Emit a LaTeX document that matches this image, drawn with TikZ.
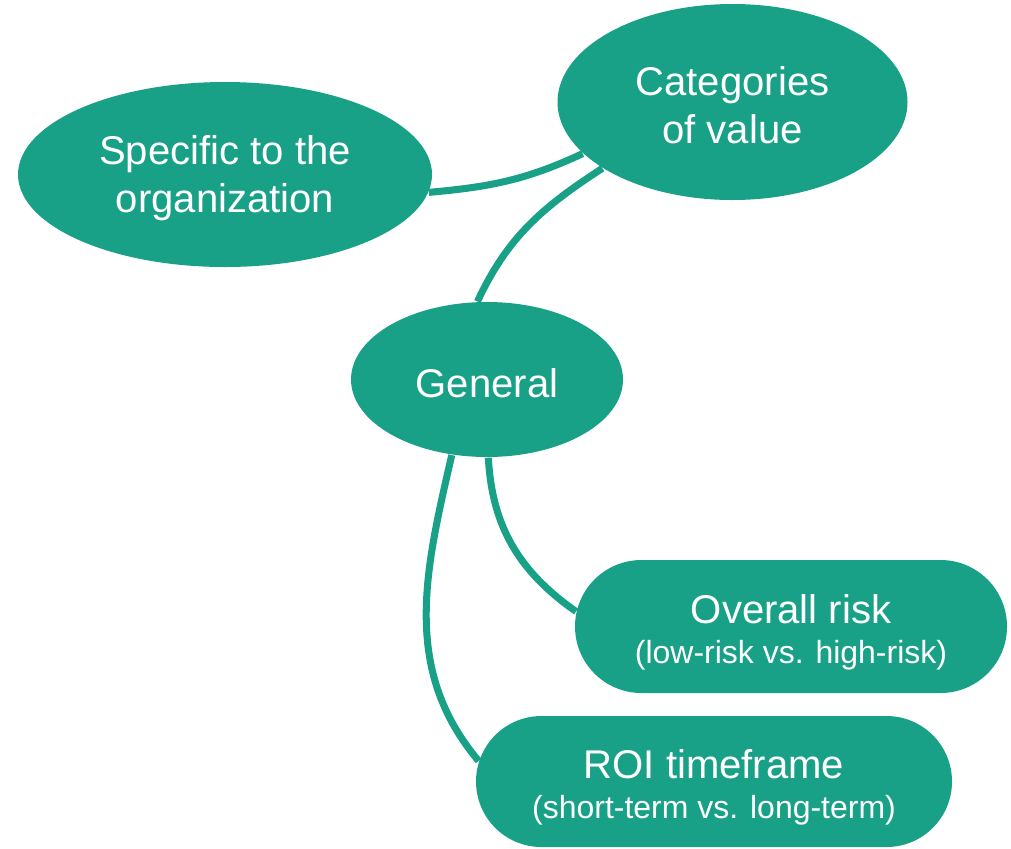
\documentclass[tikz,border=0pt]{standalone}
\usepackage{fontspec}
\setmainfont{Liberation Sans}
\usepackage{tikz}
\usetikzlibrary{shapes.geometric,shapes.misc}
\usepackage{xcolor}
\definecolor{valgreen}{RGB}{24,161,134}
\newcommand{\bubblesize}{\fontsize{11.4}{13.66}\selectfont}
\newcommand{\pillsize}{\fontsize{11.4}{11.4}\selectfont}
\newcommand{\subsize}{\fontsize{9.1}{11.4}\selectfont}
\newcommand{\bubblestrut}{\rule{0pt}{10.3pt}}
\newcommand{\pillstrut}{\rule{0pt}{11.7pt}}
\tikzset{
	bubble/.style={ellipse, fill=valgreen, text=white, inner sep=0pt, align=center, font=\bubblesize},
	pill/.style={rounded rectangle, fill=valgreen, text=white, inner sep=0pt, align=center, font=\pillsize},
	link/.style={draw=valgreen, line width=2pt}
}

\begin{document}
\begin{tikzpicture}
			\useasboundingbox (0,0) rectangle (10.11,-8.48);
			
			\node[bubble, minimum width=4.14cm, minimum height=1.85cm] (spec) at (2.25,-1.745) {\bubblestrut Specific to the\\organization};
			\node[bubble, minimum width=3.50cm, minimum height=1.96cm] (cat) at (7.325,-1.02) {\bubblestrut Categories\\of value};
			\node[bubble, minimum width=2.72cm, minimum height=1.55cm] (gen) at (4.87,-3.795) {\bubblestrut General};
			
			\node[pill, minimum width=4.32cm, minimum height=1.33cm] (risk) at (7.91,-6.265) {\pillstrut Overall risk\\{\subsize (low-risk vs. high-risk)}};
			\node[pill, minimum width=4.76cm, minimum height=1.31cm] (roi) at (7.14,-7.815) {\pillstrut ROI timeframe\\{\subsize (short-term vs. long-term)}};
			
			\draw[link] (spec.-5) to[out=5, in=205] (cat.199);
			\draw[link] (cat.207) to[out=213, in=65] (gen.97);
			\draw[link] (gen.-89) to[out=-87, in=145] (risk.176);
			\draw[link] (gen.245) to[out=-103, in=130] (roi.175.5);
		\end{tikzpicture}
\end{document}
